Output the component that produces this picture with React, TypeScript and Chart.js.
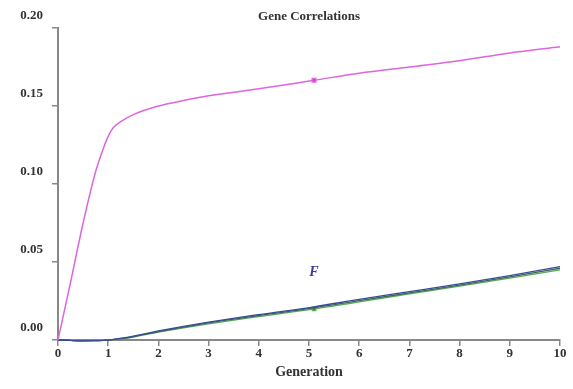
import React, { useEffect, useRef } from "react";
import { Chart, registerables } from "chart.js";

Chart.register(...registerables);

const generations = [0, 0.25, 0.5, 0.75, 0.9, 1, 1.1, 1.3, 1.5, 2, 2.5, 3, 4, 5.1, 6, 7, 8, 9, 10];
const pinkVals = [0, 0.037, 0.075, 0.108, 0.1225, 0.1305, 0.136, 0.141, 0.1445, 0.150, 0.1535, 0.1565, 0.161, 0.1665, 0.171, 0.175, 0.179, 0.184, 0.188];
const blueVals = [0, -0.0003, -0.0005, -0.0004, -0.0002, 0, 0.0004, 0.0013, 0.0025, 0.0058, 0.0088, 0.0115, 0.0163, 0.0213, 0.026, 0.031, 0.036, 0.0413, 0.047];
const tealVals = [0, -0.0003, -0.0005, -0.0004, -0.0002, 0, 0.0003, 0.0011, 0.0022, 0.0054, 0.0083, 0.011, 0.0157, 0.0206, 0.0252, 0.0302, 0.0352, 0.0404, 0.046];
const greenVals = [0, -0.0003, -0.0005, -0.0004, -0.0002, 0, 0.0002, 0.0009, 0.0019, 0.005, 0.0078, 0.0104, 0.015, 0.0199, 0.0245, 0.0295, 0.0345, 0.0397, 0.045];
const markerX = 5.1;
const titleText = "Gene Correlations";
const xTitle = "Generation";
const fLabel = { text: "F", x: 5.1, y: 0.0435 };

const FONT = "'Liberation Serif', 'DejaVu Serif', serif";

export default function App() {
  const ref = useRef<HTMLCanvasElement | null>(null);
  useEffect(() => {
    if (!ref.current) return;
    const mk = (vals: number[]) => generations.map((g, i) => ({ x: g, y: vals[i] }));
    const ptR = (ctx: any) => (ctx.raw && ctx.raw.x === markerX ? 2.5 : 0);
    const textPlugin = {
      id: "texts",
      afterDraw(chart: any) {
        const c = chart.ctx;
        const { chartArea, scales } = chart;
        c.save();
        c.fillStyle = "#333";
        c.font = `bold 13px ${FONT}`;
        c.textAlign = "center";
        c.textBaseline = "middle";
        c.fillText(titleText, (chartArea.left + chartArea.right) / 2, 17);
        c.fillStyle = "#3a3aa0";
        c.font = `italic bold 14px ${FONT}`;
        c.fillText(fLabel.text, scales.x.getPixelForValue(fLabel.x), scales.y.getPixelForValue(fLabel.y));
        c.restore();
      },
    };
    const chart = new Chart(ref.current, {
      type: "line",
      data: {
        datasets: [
          { data: mk(pinkVals), borderColor: "#dd66dd", backgroundColor: "#dd33dd", borderWidth: 1.5, pointRadius: ptR, pointStyle: "rect", cubicInterpolationMode: "monotone", clip: false } as any,
          { data: mk(blueVals), borderColor: "#3a4a99", borderWidth: 1.3, pointRadius: 0, cubicInterpolationMode: "monotone", clip: false } as any,
          { data: mk(tealVals), borderColor: "#3a6658", borderWidth: 1.3, pointRadius: 0, cubicInterpolationMode: "monotone", clip: false } as any,
          { data: mk(greenVals), borderColor: "#55aa55", backgroundColor: "#338833", borderWidth: 1.3, pointRadius: ptR, pointStyle: "rect", cubicInterpolationMode: "monotone", clip: false } as any,
        ],
      },
      options: {
        animation: false,
        responsive: false,
        maintainAspectRatio: false,
        layout: { padding: { top: 28, right: 13, left: 0, bottom: 0 } },
        plugins: { legend: { display: false }, tooltip: { enabled: false } },
        scales: {
          x: {
            type: "linear",
            min: 0,
            max: 10,
            afterFit: (s: any) => { s.height = 49; },
            border: { display: true, color: "#888", width: 2 },
            grid: { drawOnChartArea: false, drawTicks: true, tickLength: 6, color: "#888", lineWidth: 1.5 },
            ticks: { stepSize: 1, color: "#333", padding: 0, font: { family: FONT, size: 13, weight: "bold" }, maxRotation: 0 },
            title: { display: true, text: xTitle, color: "#333", font: { family: FONT, size: 14, weight: "bold" }, padding: { top: 0, bottom: 8 } },
          },
          y: {
            type: "linear",
            min: 0,
            max: 0.2,
            afterFit: (s: any) => { s.width = 58; },
            border: { display: true, color: "#888", width: 2 },
            grid: { drawOnChartArea: false, drawTicks: true, tickLength: 6, color: "#888", lineWidth: 1.5 },
            ticks: { stepSize: 0.05, color: "#333", padding: 9, labelOffset: -12, font: { family: FONT, size: 13, weight: "bold" }, callback: (v: any) => Number(v).toFixed(2) },
          },
        },
      } as any,
      plugins: [textPlugin],
    });
    return () => chart.destroy();
  }, []);
  return (
    <div style={{ position: "fixed", left: 0, top: 0, width: 573, height: 389, background: "#fff" }}>
      <canvas ref={ref} width={573} height={389} style={{ width: 573, height: 389 }} />
    </div>
  );
}
